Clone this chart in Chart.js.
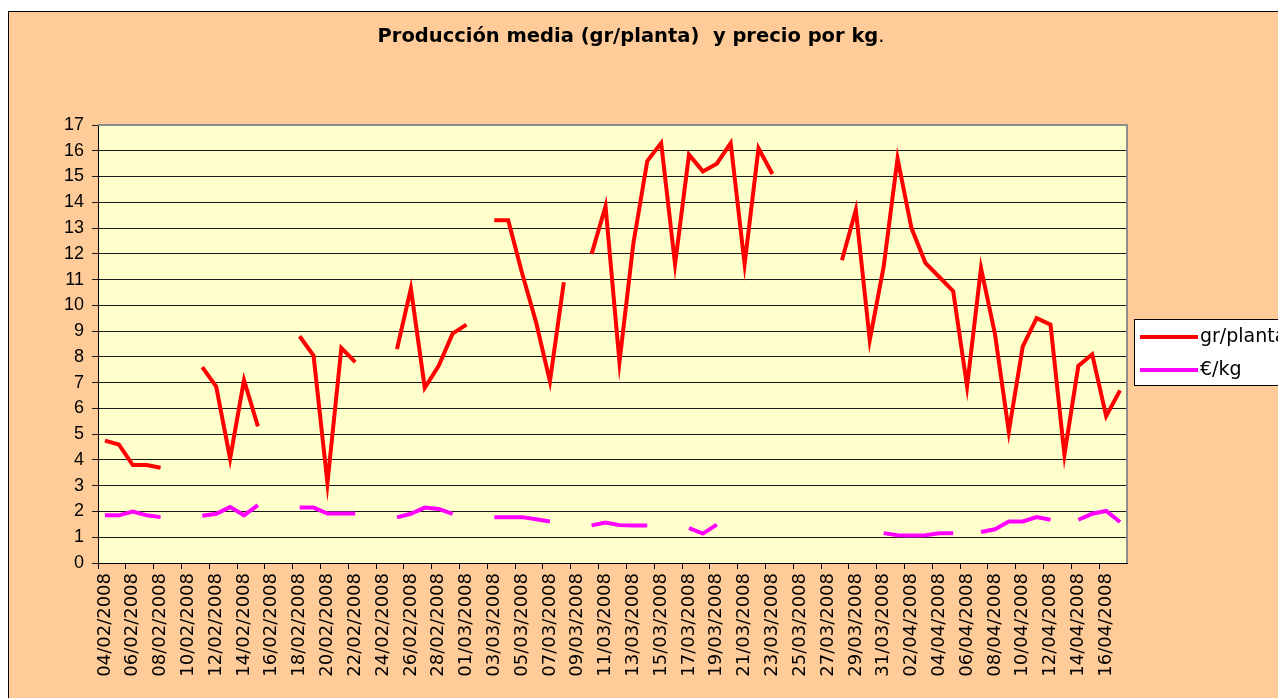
<!DOCTYPE html>
<html lang="es">
<head>
<meta charset="utf-8">
<title>Producción media y precio por kg</title>
<script src="https://cdn.jsdelivr.net/npm/chart.js@4/dist/chart.umd.min.js"></script>
<style>
  html, body { margin: 0; padding: 0; background: #fff; overflow: hidden; }
  #fondo {
    position: absolute; left: 8px; top: 11px; width: 1300px; height: 720px;
    background: #ffcc99; border-left: 1px solid #000; border-top: 1px solid #000;
  }
  #grafico { position: absolute; left: 0; top: 0; }
</style>
</head>
<body>
<div id="fondo"></div>
<canvas id="grafico" width="1278" height="698"></canvas>
<script>
// Fechas (una por día)
const fechas = [
  '04/02/2008', '05/02/2008', '06/02/2008', '07/02/2008', '08/02/2008', '09/02/2008', '10/02/2008',
  '11/02/2008', '12/02/2008', '13/02/2008', '14/02/2008', '15/02/2008', '16/02/2008', '17/02/2008',
  '18/02/2008', '19/02/2008', '20/02/2008', '21/02/2008', '22/02/2008', '23/02/2008', '24/02/2008',
  '25/02/2008', '26/02/2008', '27/02/2008', '28/02/2008', '29/02/2008', '01/03/2008', '02/03/2008',
  '03/03/2008', '04/03/2008', '05/03/2008', '06/03/2008', '07/03/2008', '08/03/2008', '09/03/2008',
  '10/03/2008', '11/03/2008', '12/03/2008', '13/03/2008', '14/03/2008', '15/03/2008', '16/03/2008',
  '17/03/2008', '18/03/2008', '19/03/2008', '20/03/2008', '21/03/2008', '22/03/2008', '23/03/2008',
  '24/03/2008', '25/03/2008', '26/03/2008', '27/03/2008', '28/03/2008', '29/03/2008', '30/03/2008',
  '31/03/2008', '01/04/2008', '02/04/2008', '03/04/2008', '04/04/2008', '05/04/2008', '06/04/2008',
  '07/04/2008', '08/04/2008', '09/04/2008', '10/04/2008', '11/04/2008', '12/04/2008', '13/04/2008',
  '14/04/2008', '15/04/2008', '16/04/2008', '17/04/2008'
];

// gr/planta (null = sin dato)
const grPlanta = [
  4.75, 4.6, 3.8, 3.8, 3.7, null, null,
  7.6, 6.85, 4.05, 7.1, 5.3, null, null,
  8.8, 8.05, 3.1, 8.35, 7.8, null, null,
  8.3, 10.65, 6.8, 7.65, 8.9, 9.25, null,
  13.3, 13.3, 11.25, 9.35, 7.05, 10.9, null,
  12.0, 13.85, 7.8, 12.4, 15.6, 16.3, 11.6,
  15.85, 15.2, 15.5, 16.3, 11.6, 16.1, 15.1,
  null, null, null, null, 11.75, 13.7, 8.65,
  11.5, 15.7, 13.0, 11.65, 11.1, 10.55, 6.85,
  11.45, 8.9, 5.1, 8.4, 9.5, 9.25, 4.2,
  7.65, 8.1, 5.7, 6.7
];

// €/kg
const euroKg = [
  1.85, 1.85, 2.0, 1.85, 1.78, null, null,
  1.83, 1.91, 2.17, 1.85, 2.25, null, null,
  2.15, 2.15, 1.92, 1.92, 1.92, null, null,
  1.77, 1.91, 2.15, 2.1, 1.91, null, null,
  1.78, 1.78, 1.78, 1.7, 1.61, null, null,
  1.46, 1.57, 1.47, 1.46, 1.46, null, null,
  1.35, 1.14, 1.49, null, null, null, null,
  null, null, null, null, null, null, null,
  1.16, 1.08, 1.07, 1.08, 1.15, 1.15, null,
  1.2, 1.31, 1.61, 1.61, 1.78, 1.68, null,
  1.68, 1.91, 2.02, 1.59
];

const yTicks = { min: 0, max: 17, step: 1 };

const titulo = 'Producción media (gr/planta)  y precio por kg';
const fuenteEjes = '"DejaVu Sans", sans-serif';

// fondo del área de trazado + borde gris + título
const areaPlugin = {
  id: 'area',
  beforeDraw(chart) {
    const { ctx, chartArea: a } = chart;
    ctx.save();
    ctx.fillStyle = '#ffffcc';
    ctx.fillRect(a.left, a.top, a.right - a.left, a.bottom - a.top);
    ctx.restore();
  },
  afterDraw(chart) {
    const { ctx, chartArea: a } = chart;
    ctx.save();
    ctx.strokeStyle = '#8c8c8c';
    ctx.lineWidth = 2;
    ctx.beginPath();
    ctx.moveTo(a.left, a.top);
    ctx.lineTo(a.right, a.top);
    ctx.lineTo(a.right, a.bottom);
    ctx.stroke();

    // título: texto en negrita y el punto final normal
    const fBold = 'bold 19.5px "DejaVu Sans", sans-serif';
    const fNormal = '19.5px "DejaVu Sans", sans-serif';
    ctx.font = fBold;
    const w1 = ctx.measureText(titulo).width;
    ctx.font = fNormal;
    const w2 = ctx.measureText('.').width;
    const x0 = 631 - (w1 + w2) / 2;
    ctx.fillStyle = '#000';
    ctx.textAlign = 'left';
    ctx.textBaseline = 'middle';
    ctx.font = fBold;
    ctx.fillText(titulo, x0, 37);
    ctx.font = fNormal;
    ctx.fillText('.', x0 + w1, 37);
    ctx.restore();
  }
};

// leyenda con recuadro, a la derecha
const leyendaPlugin = {
  id: 'leyenda',
  afterDraw(chart) {
    const ctx = chart.ctx;
    ctx.save();
    ctx.fillStyle = '#fff';
    ctx.fillRect(1134.5, 319.5, 160, 66);
    ctx.strokeStyle = '#000';
    ctx.lineWidth = 1;
    ctx.strokeRect(1134.5, 319.5, 160, 66);
    chart.data.datasets.forEach((ds, i) => {
      const y = 337 + i * 33;
      ctx.strokeStyle = ds.borderColor;
      ctx.lineWidth = 4;
      ctx.beginPath();
      ctx.moveTo(1140, y);
      ctx.lineTo(1198, y);
      ctx.stroke();
      ctx.fillStyle = '#000';
      ctx.font = '19px ' + fuenteEjes;
      ctx.textAlign = 'left';
      ctx.textBaseline = 'middle';
      ctx.fillText(ds.label, 1200, y);
    });
    ctx.restore();
  }
};

new Chart(document.getElementById('grafico'), {
  type: 'line',
  data: {
    labels: fechas,
    datasets: [
      {
        label: 'gr/planta',
        data: grPlanta,
        borderColor: '#ff0000',
        backgroundColor: '#ff0000',
        borderWidth: 4,
        pointRadius: 0,
        tension: 0,
        spanGaps: false
      },
      {
        label: '€/kg',
        data: euroKg,
        borderColor: '#ff00ff',
        backgroundColor: '#ff00ff',
        borderWidth: 4,
        pointRadius: 0,
        tension: 0,
        spanGaps: false
      }
    ]
  },
  options: {
    responsive: false,
    animation: false,
    layout: { padding: { left: 0, top: 125, right: 151, bottom: 0 } },
    plugins: {
      legend: { display: false },
      title: { display: false },
      tooltip: { enabled: false }
    },
    scales: {
      x: {
        offset: true,
        grid: {
          offset: true,
          drawOnChartArea: false,
          tickLength: 6,
          color: (c) => (c.index % 2 === 0 ? '#000' : 'rgba(0,0,0,0)')
        },
        border: { color: '#000', width: 1 },
        ticks: {
          autoSkip: false,
          minRotation: 90,
          maxRotation: 90,
          padding: 4,
          color: '#000',
          font: { family: fuenteEjes, size: 18 },
          callback: (v, i) => (i % 2 === 0 ? fechas[i] : '')
        },
        afterFit: (s) => { s.height = 135; }
      },
      y: {
        min: yTicks.min,
        max: yTicks.max,
        grid: { color: '#1a1a1a', lineWidth: 1, tickLength: 6 },
        border: { color: '#000', width: 1 },
        ticks: {
          stepSize: yTicks.step,
          padding: 8,
          color: '#000',
          font: { family: '"Liberation Sans", Arial, sans-serif', size: 18 }
        },
        afterFit: (s) => { s.width = 98; }
      }
    }
  },
  plugins: [areaPlugin, leyendaPlugin]
});
</script>
</body>
</html>
